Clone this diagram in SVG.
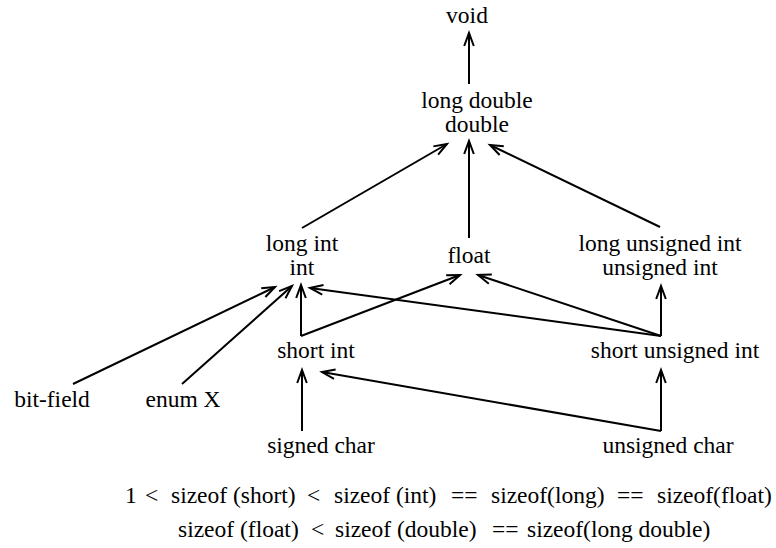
<svg xmlns="http://www.w3.org/2000/svg" width="776" height="548" viewBox="0 0 776 548">
<style>
.t{font-family:'Liberation Serif','Times New Roman','DejaVu Serif',serif;font-size:23.5px;fill:#000}
.n{text-anchor:middle}
.c line{stroke:#000;stroke-width:2;fill:none;marker-end:url(#ah)}
</style>
<defs>
<marker id="ah" markerUnits="userSpaceOnUse" viewBox="-16 -8 20 16" refX="0" refY="0" markerWidth="20" markerHeight="16" orient="auto">
<path d="M-13,-4.8 L0,0 L-13,4.8" fill="none" stroke="#000" stroke-width="2"/>
</marker>
</defs>
<rect width="776" height="548" fill="#fff"/>
<g class="c" id="connectors">
<line x1="469" y1="84" x2="469" y2="33"/>
<line x1="302" y1="228" x2="447" y2="144"/>
<line x1="469" y1="238" x2="469" y2="141"/>
<line x1="660" y1="227" x2="490" y2="145"/>
<line x1="301" y1="336" x2="301" y2="285"/>
<line x1="301" y1="336" x2="460" y2="275"/>
<line x1="661" y1="336" x2="310" y2="288"/>
<line x1="661" y1="336" x2="478" y2="275"/>
<line x1="661" y1="336" x2="661" y2="286"/>
<line x1="73" y1="384" x2="275" y2="287"/>
<line x1="182" y1="384" x2="292" y2="286"/>
<line x1="302" y1="431" x2="302" y2="370"/>
<line x1="661" y1="431" x2="322" y2="372"/>
<line x1="661" y1="431" x2="661" y2="370"/>
</g>
<g class="t n" font-family="Liberation Serif, Times New Roman, DejaVu Serif, serif">
<g id="void"><text x="467" y="23">void</text></g>
<g id="double"><text x="477" y="108">long double</text><text x="477" y="132">double</text></g>
<g id="int"><text x="302" y="251">long int</text><text x="302" y="275">int</text></g>
<g id="float"><text x="469" y="263">float</text></g>
<g id="unsigned-int"><text x="660" y="251">long unsigned int</text><text x="660" y="275">unsigned int</text></g>
<g id="short-int"><text x="316" y="358">short int</text></g>
<g id="short-unsigned-int"><text x="675" y="358">short unsigned int</text></g>
<g id="bit-field"><text x="52" y="407">bit-field</text></g>
<g id="enum-x"><text x="183" y="407">enum X</text></g>
<g id="signed-char"><text x="321" y="453">signed char</text></g>
<g id="unsigned-char"><text x="668" y="453">unsigned char</text></g>
</g>
<g id="notes" class="t" font-family="Liberation Serif, Times New Roman, DejaVu Serif, serif">
<text x="125" y="503">1</text>
<text x="145" y="503">&lt;</text>
<text x="171" y="503">sizeof (short)</text>
<text x="307" y="503">&lt;</text>
<text x="334" y="503">sizeof (int)</text>
<text x="451" y="503">==</text>
<text x="491" y="503">sizeof(long)</text>
<text x="617" y="503">==</text>
<text x="657" y="503">sizeof(float)</text>
<text x="178" y="537">sizeof (float)</text>
<text x="311" y="537">&lt;</text>
<text x="335" y="537">sizeof (double)</text>
<text x="492" y="537">==</text>
<text x="527" y="537">sizeof(long double)</text>
</g>
</svg>
